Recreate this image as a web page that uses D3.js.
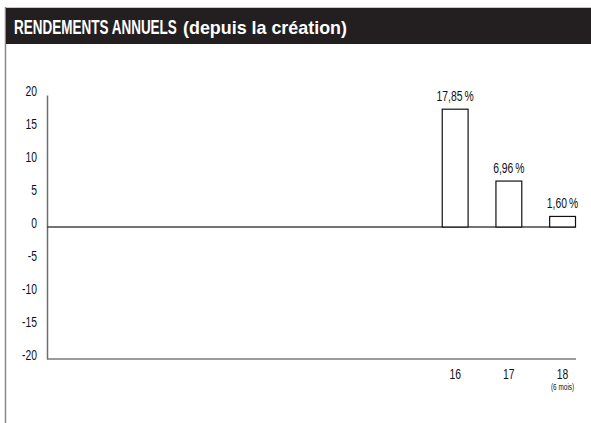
<!DOCTYPE html>
<html>
<head>
<meta charset="utf-8">
<script src="https://cdn.jsdelivr.net/npm/d3@7"></script>
<style>
  html, body { margin: 0; padding: 0; background: #fff; }
  svg { display: block; }
  text { font-family: "Liberation Sans", Arial, Helvetica, sans-serif; }
</style>
</head>
<body>
<svg id="chart" width="591" height="423"></svg>
<script>
// ---- data ----
const titleMain = "RENDEMENTS ANNUELS";
const titleSub = "(depuis la création)";
const categories = ["09", "10", "11", "12", "13", "14", "15", "16", "17", "18"];
const values = [null, null, null, null, null, null, null, 17.85, 6.96, 1.60];
const valueLabels = [null, null, null, null, null, null, null, "17,85\u2009%", "6,96\u2009%", "1,60\u2009%"];
const xTickLabels = [null, null, null, null, null, null, null, "16", "17", "18"];
const xSubLabels = [null, null, null, null, null, null, null, null, null, "(6 mois)"];
const yTicks = [20, 15, 10, 5, 0, -5, -10, -15, -20];

// ---- layout ----
const svg = d3.select("#chart");
const W = 591, H = 423;
const axisLeft = 47, axisRight = 576, yTop = 95, yBottom = 359;

// condense text horizontally around its anchor (the original uses a condensed typeface)
function condense(sel, f) {
  sel.each(function () {
    const t = d3.select(this);
    const x = +t.attr("x") || 0, y = +t.attr("y") || 0;
    t.attr("x", 0).attr("y", 0).attr("transform", `translate(${x},${y}) scale(${f},1)`);
  });
}

// frame
svg.append("line").attr("x1", 5.5).attr("x2", W).attr("y1", 7.5).attr("y2", 7.5)
  .attr("stroke", "#c8c8c8").attr("stroke-width", 1);
svg.append("line").attr("x1", 5.5).attr("x2", 5.5).attr("y1", 7).attr("y2", H)
  .attr("stroke", "#8a8a8a").attr("stroke-width", 1.5);
svg.append("rect").attr("x", 6).attr("y", 8).attr("width", W - 6).attr("height", 36)
  .attr("fill", "#231f20");

const tMain = svg.append("text").attr("x", 14).attr("y", 34).attr("fill", "#fff")
  .attr("font-weight", "bold").attr("font-size", 20).text(titleMain);
const mainLen = tMain.node().getComputedTextLength();
condense(tMain, 163 / mainLen);
const tSub = svg.append("text").attr("x", 183).attr("y", 34).attr("fill", "#fff")
  .attr("font-weight", "bold").attr("font-size", 18).text(titleSub);
const subLen = tSub.node().getComputedTextLength();
condense(tSub, 164 / subLen);

// scales
const x = d3.scaleBand().domain(categories).range([axisLeft, axisRight])
  .paddingInner(0.5).paddingOuter(0.175).align(1);
const y = d3.scaleLinear().domain([-20, 20]).range([yBottom, yTop]);

// y axis
const yAxis = d3.axisLeft(y).tickValues(yTicks).tickSize(0).tickPadding(10).tickFormat(d => String(d));
const gy = svg.append("g").attr("transform", `translate(${axisLeft},0)`).call(yAxis);
gy.attr("font-family", null).attr("font-size", null);
gy.select(".domain").attr("stroke", "#6d6d6d").attr("stroke-width", 1.5);
gy.selectAll(".tick text").attr("font-size", 14).attr("fill", "#111")
  .attr("dy", null).attr("x", -10).attr("y", 0).call(condense, 0.74);

// zero line and bottom line
svg.append("line").attr("x1", axisLeft).attr("x2", axisRight).attr("y1", y(0)).attr("y2", y(0))
  .attr("stroke", "#444").attr("stroke-width", 1.5);
svg.append("line").attr("x1", axisLeft).attr("x2", axisRight).attr("y1", y(-20)).attr("y2", y(-20))
  .attr("stroke", "#7a7a7a").attr("stroke-width", 1.5);

// bars
const data = categories.map((c, i) => ({ c, v: values[i], lab: valueLabels[i], tick: xTickLabels[i], sub: xSubLabels[i] }));
const withVal = data.filter(d => d.v != null);
svg.append("g").selectAll("rect").data(withVal).join("rect")
  .attr("x", d => x(d.c) + 0.5)
  .attr("y", d => y(Math.max(0, d.v)))
  .attr("width", x.bandwidth() - 1)
  .attr("height", d => Math.abs(y(d.v) - y(0)))
  .attr("fill", "#fff").attr("stroke", "#111").attr("stroke-width", 1.2);

svg.append("g").selectAll("text").data(withVal).join("text")
  .attr("x", d => x(d.c) + x.bandwidth() / 2)
  .attr("y", d => y(d.v) - 8)
  .attr("text-anchor", "middle").attr("font-size", 14).attr("fill", "#111")
  .text(d => d.lab).call(condense, 0.74);

// x tick labels
svg.append("g").selectAll("text").data(data.filter(d => d.tick)).join("text")
  .attr("x", d => x(d.c) + x.bandwidth() / 2)
  .attr("y", y(-20) + 20)
  .attr("text-anchor", "middle").attr("font-size", 14).attr("fill", "#111")
  .text(d => d.tick).call(condense, 0.74);
svg.append("g").selectAll("text").data(data.filter(d => d.sub)).join("text")
  .attr("x", d => x(d.c) + x.bandwidth() / 2)
  .attr("y", y(-20) + 31)
  .attr("text-anchor", "middle").attr("font-size", 8.5).attr("fill", "#111")
  .text(d => d.sub).call(condense, 0.76);
</script>
</body>
</html>
